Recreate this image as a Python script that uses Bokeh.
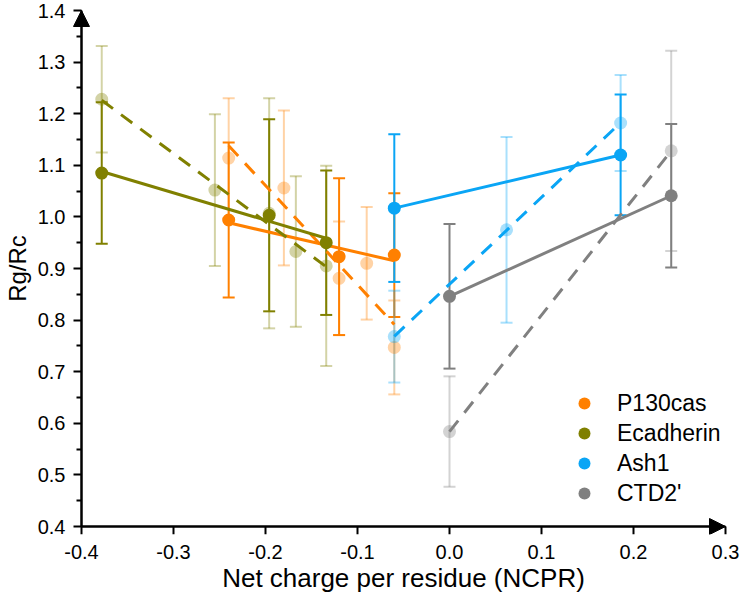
import numpy as np
from bokeh.plotting import figure
from bokeh.models import (ColumnDataSource, Whisker, TeeHead, Arrow, NormalHead, LinearAxis,
                          FixedTicker, PrintfTickFormatter, Legend, LegendItem, Range1d)
from bokeh.embed import file_html
from bokeh.resources import INLINE

# ---------------- data ----------------
names = ["P130cas", "Ecadherin", "Ash1", "CTD2'"]
colors = ["#FF8000", "#808000", "#0AA5F5", "#808080"]

# P130cas
p130_solid_x = [-0.24, -0.12, -0.06]
p130_solid_y = [0.994, 0.923, 0.926]
p130_solid_err = [0.150, 0.152, 0.120]
p130_light_x = [-0.24, -0.18, -0.12, -0.09, -0.06]
p130_light_y = [1.114, 1.056, 0.881, 0.910, 0.747]
p130_light_err = [0.116, 0.150, 0.110, 0.109, 0.091]

# Ecadherin
ecad_solid_x = [-0.378, -0.196, -0.134]
ecad_solid_y = [1.085, 1.003, 0.950]
ecad_solid_err = [0.137, 0.186, 0.140]
ecad_light_x = [-0.378, -0.255, -0.196, -0.167, -0.134]
ecad_light_y = [1.228, 1.052, 1.007, 0.933, 0.905]
ecad_light_err = [0.103, 0.147, 0.223, 0.146, 0.194]

# Ash1
ash1_solid_x = [-0.06, 0.186]
ash1_solid_y = [1.017, 1.120]
ash1_solid_err = [0.143, 0.117]
ash1_light_x = [-0.06, 0.062, 0.186]
ash1_light_y = [0.768, 0.975, 1.182]
ash1_light_err = [0.089, 0.180, 0.093]

# CTD2'
ctd_solid_x = [0.0, 0.241]
ctd_solid_y = [0.846, 1.041]
ctd_solid_err = [0.140, 0.139]
ctd_light_x = [0.0, 0.241]
ctd_light_y = [0.584, 1.128]
ctd_light_err = [0.107, 0.194]

x_ticks = [-0.4, -0.3, -0.2, -0.1, 0.0, 0.1, 0.2, 0.3]
y_ticks = [0.4, 0.5, 0.6, 0.7, 0.8, 0.9, 1.0, 1.1, 1.2, 1.3, 1.4]
y_minor = [0.45, 0.55, 0.65, 0.75, 0.85, 0.95, 1.05, 1.15, 1.25, 1.35]

series = [
    (p130_solid_x, p130_solid_y, p130_solid_err, p130_light_x, p130_light_y, p130_light_err),
    (ecad_solid_x, ecad_solid_y, ecad_solid_err, ecad_light_x, ecad_light_y, ecad_light_err),
    (ash1_solid_x, ash1_solid_y, ash1_solid_err, ash1_light_x, ash1_light_y, ash1_light_err),
    (ctd_solid_x, ctd_solid_y, ctd_solid_err, ctd_light_x, ctd_light_y, ctd_light_err),
]

FONT = "Liberation Sans"
LIGHT = 0.35

# axis span plus a little padding so the arrow heads are not clipped by the frame
x_lo, x_hi = x_ticks[0], x_ticks[-1]
y_lo, y_hi = y_ticks[0], y_ticks[-1]
xpad = 0.00978
ypad = 0.0155

p = figure(width=740, height=608, output_backend="svg", toolbar_location=None,
           x_range=Range1d(x_lo - xpad, x_hi + xpad), y_range=Range1d(y_lo - ypad, y_hi + ypad),
           min_border_left=72, min_border_right=6, min_border_top=2, min_border_bottom=74)
p.outline_line_color = None
p.grid.visible = False
p.background_fill_color = "white"

fmt = PrintfTickFormatter(format="%.1f")

# panel axes: only tick labels and titles
for ax in (p.xaxis[0], p.yaxis[0]):
    ax.axis_line_color = None
    ax.major_tick_line_color = None
    ax.minor_tick_line_color = None
    ax.major_tick_out = 0
    ax.major_tick_in = 0
    ax.minor_tick_out = 0
    ax.minor_tick_in = 0
    ax.major_label_text_font = FONT
    ax.major_label_text_font_size = "20px"
    ax.major_label_text_color = "black"
    ax.axis_label_text_font = FONT
    ax.axis_label_text_font_style = "normal"
    ax.axis_label_text_color = "black"
    ax.formatter = fmt

p.xaxis.ticker = FixedTicker(ticks=x_ticks)
p.xaxis.major_label_standoff = 10
p.xaxis.axis_label = "Net charge per residue (NCPR)"
p.xaxis.axis_label_text_font_size = "26px"
p.xaxis.axis_label_standoff = 1

p.yaxis.ticker = FixedTicker(ticks=y_ticks)
p.yaxis.major_label_standoff = 7
p.yaxis.axis_label = "Rg/Rc"
p.yaxis.axis_label_text_font_size = "24px"
p.yaxis.axis_label_standoff = 4

# axis lines and ticks placed at the data origin (-0.4, 0.4)
def rule_axis(ticker, loc, bounds):
    a = LinearAxis(ticker=ticker, fixed_location=loc, bounds=bounds, formatter=fmt)
    a.axis_line_width = 2
    a.axis_line_color = "black"
    a.major_tick_line_width = 2
    a.major_tick_in = 0
    a.major_tick_out = 8
    a.minor_tick_line_width = 2
    a.minor_tick_in = 0
    a.minor_tick_out = 5
    a.major_label_text_color = None
    return a

xrule = rule_axis(FixedTicker(ticks=x_ticks), y_lo, (x_lo, x_hi))
xrule.minor_tick_line_color = None
yrule = rule_axis(FixedTicker(ticks=y_ticks, minor_ticks=y_minor), x_lo, (y_lo, y_hi))
p.add_layout(xrule, "below")
p.add_layout(yrule, "left")

legend_items = []
for (sx, sy, se, lx, ly, le), name, col in zip(series, names, colors):
    sx = np.array(sx); sy = np.array(sy); se = np.array(se)
    lx = np.array(lx); ly = np.array(ly); le = np.array(le)

    # light (transparent) error bars and points
    lsrc = ColumnDataSource(dict(x=lx, y=ly, upper=ly + le, lower=ly - le))
    p.add_layout(Whisker(base="x", upper="upper", lower="lower", source=lsrc,
                         dimension="height", line_color=col, line_width=2, line_alpha=LIGHT,
                         upper_head=TeeHead(size=12, line_color=col, line_width=2, line_alpha=LIGHT),
                         lower_head=TeeHead(size=12, line_color=col, line_width=2, line_alpha=LIGHT)))
    p.scatter("x", "y", source=lsrc, size=13, fill_color=col, fill_alpha=LIGHT, line_color=None)

    # dashed regression line through light points
    m, b = np.polyfit(lx, ly, 1)
    xs = np.array([lx.min(), lx.max()])
    p.line(xs, m * xs + b, line_color=col, line_width=3, line_dash="14 10")

    # solid error bars and points
    ssrc = ColumnDataSource(dict(x=sx, y=sy, upper=sy + se, lower=sy - se))
    p.add_layout(Whisker(base="x", upper="upper", lower="lower", source=ssrc,
                         dimension="height", line_color=col, line_width=2,
                         upper_head=TeeHead(size=12, line_color=col, line_width=2),
                         lower_head=TeeHead(size=12, line_color=col, line_width=2)))
    r = p.scatter("x", "y", source=ssrc, size=13, fill_color=col, line_color=None)

    m2, b2 = np.polyfit(sx, sy, 1)
    xs2 = np.array([sx.min(), sx.max()])
    p.line(xs2, m2 * xs2 + b2, line_color=col, line_width=3)

    legend_items.append(LegendItem(label=name, renderers=[r]))

legend = Legend(items=legend_items, location=(497, 26), padding=0, spacing=0, margin=0,
                glyph_width=30, glyph_height=30, label_height=30, label_standoff=18,
                border_line_color=None, background_fill_alpha=0,
                label_text_font=FONT, label_text_font_size="23px", label_text_color="black")
p.add_layout(legend)

# axis arrows
p.add_layout(Arrow(end=NormalHead(size=16, fill_color="black", line_color="black"),
                   x_start=x_lo, y_start=y_lo, x_end=x_lo, y_end=y_hi,
                   line_width=2, line_color="black"))
p.add_layout(Arrow(end=NormalHead(size=16, fill_color="black", line_color="black"),
                   x_start=x_lo, y_start=y_lo, x_end=x_hi, y_end=y_lo,
                   line_width=2, line_color="black"))

open("out.html", "w").write(file_html(p, INLINE))
